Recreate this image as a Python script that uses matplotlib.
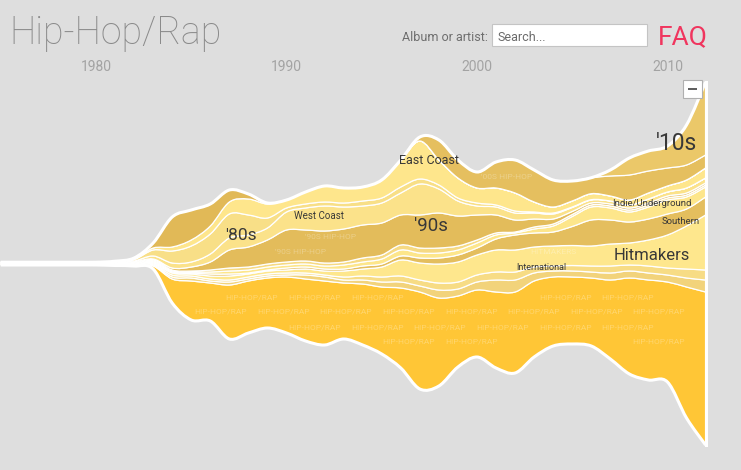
import numpy as np
import matplotlib.pyplot as plt
from matplotlib.path import Path
from matplotlib.patches import PathPatch, Rectangle
import matplotlib.colors as mcolors

plt.rcParams['font.family'] = ['Roboto', 'DejaVu Sans']

years = list(range(1975, 2013))

# depth of the stream's lower edge under the centre line
floor = [1, 1, 1, 1, 1, 1, 1.5, 2, 5, 39, 56, 57, 75, 69, 64, 69, 77, 81, 75, 81,
         90, 104, 125, 122, 103, 93, 104, 109, 93, 82, 80, 82, 95, 110, 116, 118, 154, 181]

# layer thickness per year, bottom to top
rap = [0.6] * 6 + [1, 1, 3, 24, 39, 38, 54, 52, 50, 56, 62, 64, 56, 61, 67, 80, 97, 88,
                   71, 67, 76, 81, 76, 69, 67, 68, 79, 96, 100, 100, 131, 153]
midwest = [0.2] * 6 + [.3, .5, 1, 2, 3, 2, 3, 2, 2, 2, 4, 4, 3, 4, 5, 6, 6, 8, 7, 8,
                       12, 12, 8, 6, 6, 6, 7, 7, 7, 7, 9, 12]
international = [0.2] * 6 + [.3, .5, 1, 2, 2, 2, 2, 2, 2, 2, 2, 2, 3, 4, 5, 6, 6, 7, 7, 7,
                             8, 8, 6, 5, 5.5, 6, 7, 6, 7, 7, 9, 10]
hitmakers = [0.2] * 6 + [.3, .5, 1, 2, 2, 3, 4, 3, 3, 3, 4, 4, 6, 7, 10, 16, 17, 19, 20, 20,
                         22, 22, 20, 20, 20, 20, 22, 22, 26, 33, 43, 55]
southern = [0.2] * 6 + [.3, .4, 1, 1, 1, 2, 2, 1, 1, 2, 2, 2, 2, 3, 3, 4, 5, 6, 7, 7,
                        11, 15, 14, 14, 19, 26, 24, 21, 21, 21, 17, 18]
indie = [0.2] * 6 + [.3, .4, 1, 1, 1, 2, 3, 3, 3, 3, 3, 3, 4, 4, 5, 6, 5, 5, 5, 5,
                     4, 2, 4, 6, 10, 13, 12, 10, 12, 14, 12, 10]
alternative = [0.2] * 6 + [.3, .4, 1, 1, 1, 2, 3, 3, 3, 3, 3, 3, 3, 4, 4, 5, 5, 5, 4, 3,
                           2, 1, 2, 2, 2, 2, 2, 2, 2, 2, 2, 2]
nineties = [0.2] * 6 + [.3, .5, 1, 2, 4, 8, 18, 20, 24, 32, 31, 32, 33, 33, 32, 30, 33, 35, 30, 25,
                        18, 12, 8, 5, 3, 2, 2, 2, 2, 2, 2, 2]
west_coast = [0.2] * 6 + [.3, .8, 3, 5, 5, 8, 12, 12, 12, 18, 22, 25, 22, 19, 20, 22, 31, 24, 15, 9,
                          8, 7, 6, 5, 4, 3, 3, 3, 4, 4, 5, 5]
eighties = [0.2] * 6 + [.3, 1.5, 6, 12, 16, 20, 24, 20, 10, 4, 4, 4, 4, 5, 5, 6, 5, 4, 3, 3,
                        2, 2, 1, 1, .5, .3, 0, 0, 0, 0, 0, 0]
east_coast = [0.2] * 6 + [.3, .5, 2, 4, 6, 8, 12, 16, 14, 8, 12, 16, 15, 14, 18, 27, 38, 25, 20, 15,
                          17, 18, 10, 6, 6, 6, 5, 5, 6, 6, 8, 10]
old_school = [0.2] * 6 + [.3, 1, 5, 30, 30, 22, 12, 5, 1] + [0] * 23
two_thousands = [0] * 22 + [4, 20, 18, 16, 26, 33, 32, 27, 20, 16, 20, 25, 22, 18, 15, 13]
twenty_tens = [0] * 32 + [6, 17, 20, 22, 40, 73]

layers = [
    ('HIP-HOP/RAP', rap, '#ffc636'),
    ('MIDWEST HIP-HOP', midwest, '#f2d37b'),
    ('INTERNATIONAL', international, '#f7dc85'),
    ('HITMAKERS', hitmakers, '#fee78d'),
    ('SOUTHERN HIP-HOP', southern, '#e4be5e'),
    ('INDIE HIP-HOP', indie, '#fde68b'),
    ('ALTERNATIVE HIP-HOP', alternative, '#f6da84'),
    ("'90S HIP-HOP", nineties, '#e3bc5b'),
    ('WEST COAST HIP-HOP', west_coast, '#fbe28a'),
    ("'80S HIP-HOP", eighties, '#f8df87'),
    ('EAST COAST HIP-HOP', east_coast, '#fee68c'),
    ('OLD SCHOOL HIP-HOP', old_school, '#e1b957'),
    ("'00S HIP-HOP", two_thousands, '#e5bf5f'),
    ("'10S HIP-HOP", twenty_tens, '#ebc869'),
]

year_ticks = [1980, 1990, 2000, 2010]

# label, year, height, size
labels = [
    ("'80s", 1987.6, 28, 12.5),
    ('West Coast', 1991.7, 48, 7),
    ('East Coast', 1997.5, 104, 9),
    ("'90s", 1997.6, 38, 13.5),
    ('International', 2003.4, -3, 6.5),
    ('Indie/Underground', 2009.2, 60, 6.8),
    ('Southern', 2010.7, 43, 6.8),
    ('Hitmakers', 2009.2, 9, 12),
    ("'10s", 2010.45, 121, 16.5),
]


def controls(y):
    y = np.asarray(y, float)
    q = np.r_[y[0], y, y[-1]]
    c1 = q[1:-2] + (q[2:-1] - q[:-3]) / 6
    c2 = q[2:-1] - (q[3:] - q[1:-2]) / 6
    return c1, c2


def bezier(x, y):
    # catmull-rom curve through the points, as cubic bezier segments
    x = np.asarray(x, float)
    y = np.asarray(y, float)
    cx1, cx2 = controls(x)
    cy1, cy2 = controls(y)
    verts = []
    for i in range(len(x) - 1):
        verts += [(cx1[i], cy1[i]), (cx2[i], cy2[i]), (x[i + 1], y[i + 1])]
    return verts


def evaluate(y, xq):
    # value of the same curve at arbitrary years (x is evenly spaced)
    y = np.asarray(y, float)
    c1, c2 = controls(y)
    i = np.clip(np.floor(xq - years[0]).astype(int), 0, len(y) - 2)
    t = xq - years[0] - i
    return ((1 - t) ** 3 * y[i] + 3 * (1 - t) ** 2 * t * c1[i]
            + 3 * (1 - t) * t ** 2 * c2[i] + t ** 3 * y[i + 1])


def band(x, lo, hi):
    top = bezier(x, hi)
    bot = bezier(x[::-1], lo[::-1])
    verts = [(x[0], hi[0])] + top + [(x[-1], lo[-1])] + bot + [(x[0], hi[0])]
    codes = ([Path.MOVETO] + [Path.CURVE4] * len(top) + [Path.LINETO]
             + [Path.CURVE4] * len(bot) + [Path.CLOSEPOLY])
    return Path(verts, codes)


def curve(x, y):
    v = bezier(x, y)
    return Path([(x[0], y[0])] + v, [Path.MOVETO] + [Path.CURVE4] * len(v))


bg = '#dedede'
fig = plt.figure(figsize=(7.41, 4.70), dpi=100, facecolor=bg)
ax = fig.add_axes([0, 0, 1, 1])
ax.set_facecolor(bg)
ax.set_xlim(1974.96, 2013.86)
ax.set_ylim(-206, 264)
for s in ax.spines.values():
    s.set_visible(False)
ax.set_yticks([])

x = np.array(years, float)
cum = -np.array(floor, float)
bottom = cum.copy()
bands = []
for name, vals, col in layers:
    lo = cum
    hi = cum + np.array(vals, float)
    cum = hi
    ax.add_patch(PathPatch(band(x, lo, hi), facecolor=col, edgecolor='white', lw=0.9, zorder=2))
    bands.append((name, col, lo, hi))

# outer white outline of the stream
ax.add_patch(PathPatch(curve(x, cum), fill=False, edgecolor='white', lw=2.2, zorder=3))
ax.add_patch(PathPatch(curve(x, bottom), fill=False, edgecolor='white', lw=2.2, zorder=3))
ax.plot([x[-1], x[-1]], [bottom[-1], cum[-1]], color='white', lw=2.2, zorder=3)

renderer = fig.canvas.get_renderer()
label_boxes = []
for text, yr, yv, fs in labels:
    t = ax.text(yr, yv, text, fontsize=fs, color='#383838',
                ha='center', va='center', zorder=4)
    label_boxes.append(t.get_window_extent(renderer).expanded(1.05, 1.2))

# faint genre names repeated inside each band, only where a word fits whole
px_per_year = 741 / (2013.86 - 1974.96)
xs = np.linspace(years[0], years[-1], 2000)
rows = np.arange(252, -200, -15)
half = 4.0
for k, (name, col, lo, hi) in enumerate(bands):
    lo_f = evaluate(lo, xs)
    hi_f = evaluate(hi, xs)
    if (hi_f - lo_f).max() < 2 * half + 1:
        continue
    rgb = np.array(mcolors.to_rgb(col))
    tc = rgb + (1 - rgb) * 0.28
    probe = ax.text(0, 0, name, fontsize=6)
    w = probe.get_window_extent(renderer).width / px_per_year
    probe.remove()
    step = w + 10 / px_per_year
    for j, yy in enumerate(rows):
        xa = years[0] + 0.3 - ((j % 2) * 0.5 + 0.23 * k) % 1 * step
        while xa + w < years[-1]:
            m = (xs >= xa) & (xs <= xa + w)
            if xa > years[0] and m.any() and (hi_f[m] - (yy + half)).min() > 0.3 \
                    and ((yy - half) - lo_f[m]).min() > 0.3:
                t = ax.text(xa, yy, name, fontsize=6, color=tc, va='center', ha='left', zorder=2.5)
                bb = t.get_window_extent(renderer)
                if any(bb.overlaps(lb) for lb in label_boxes):
                    t.remove()
            xa += step

ax.set_xticks(year_ticks)
ax.xaxis.tick_top()
ax.tick_params(axis='x', length=0, pad=-53, labelsize=10, labelcolor='#a3a3a3')


def fx(px):
    return px / 741


def fy(py):
    return 1 - py / 470


fig.text(fx(9), fy(44), 'Hip-Hop/Rap', fontsize=27, color='#8a8a8a',
         fontweight='light', va='baseline', ha='left')
fig.text(fx(488), fy(41), 'Album or artist:', fontsize=9, color='#6e6e6e',
         va='baseline', ha='right')
fig.add_artist(Rectangle((fx(492), fy(46)), 155 / 741, 22 / 470, transform=fig.transFigure,
                         facecolor='white', edgecolor='#c4c4c4', lw=0.8))
fig.text(fx(497), fy(41), 'Search...', fontsize=9, color='#6a6a6a', va='baseline', ha='left')
fig.text(fx(658), fy(44), 'FAQ', fontsize=19, color='#f0355e', va='baseline', ha='left')

# collapse button
fig.add_artist(Rectangle((fx(683), fy(98)), 19 / 741, 18 / 470, transform=fig.transFigure,
                         facecolor='white', edgecolor='#b0b0b0', lw=0.8, zorder=5))
fig.add_artist(Rectangle((fx(688), fy(90)), 9 / 741, 2 / 470, transform=fig.transFigure,
                         facecolor='#606060', edgecolor='none', zorder=6))

plt.savefig('out.png', dpi=100, facecolor=bg)
